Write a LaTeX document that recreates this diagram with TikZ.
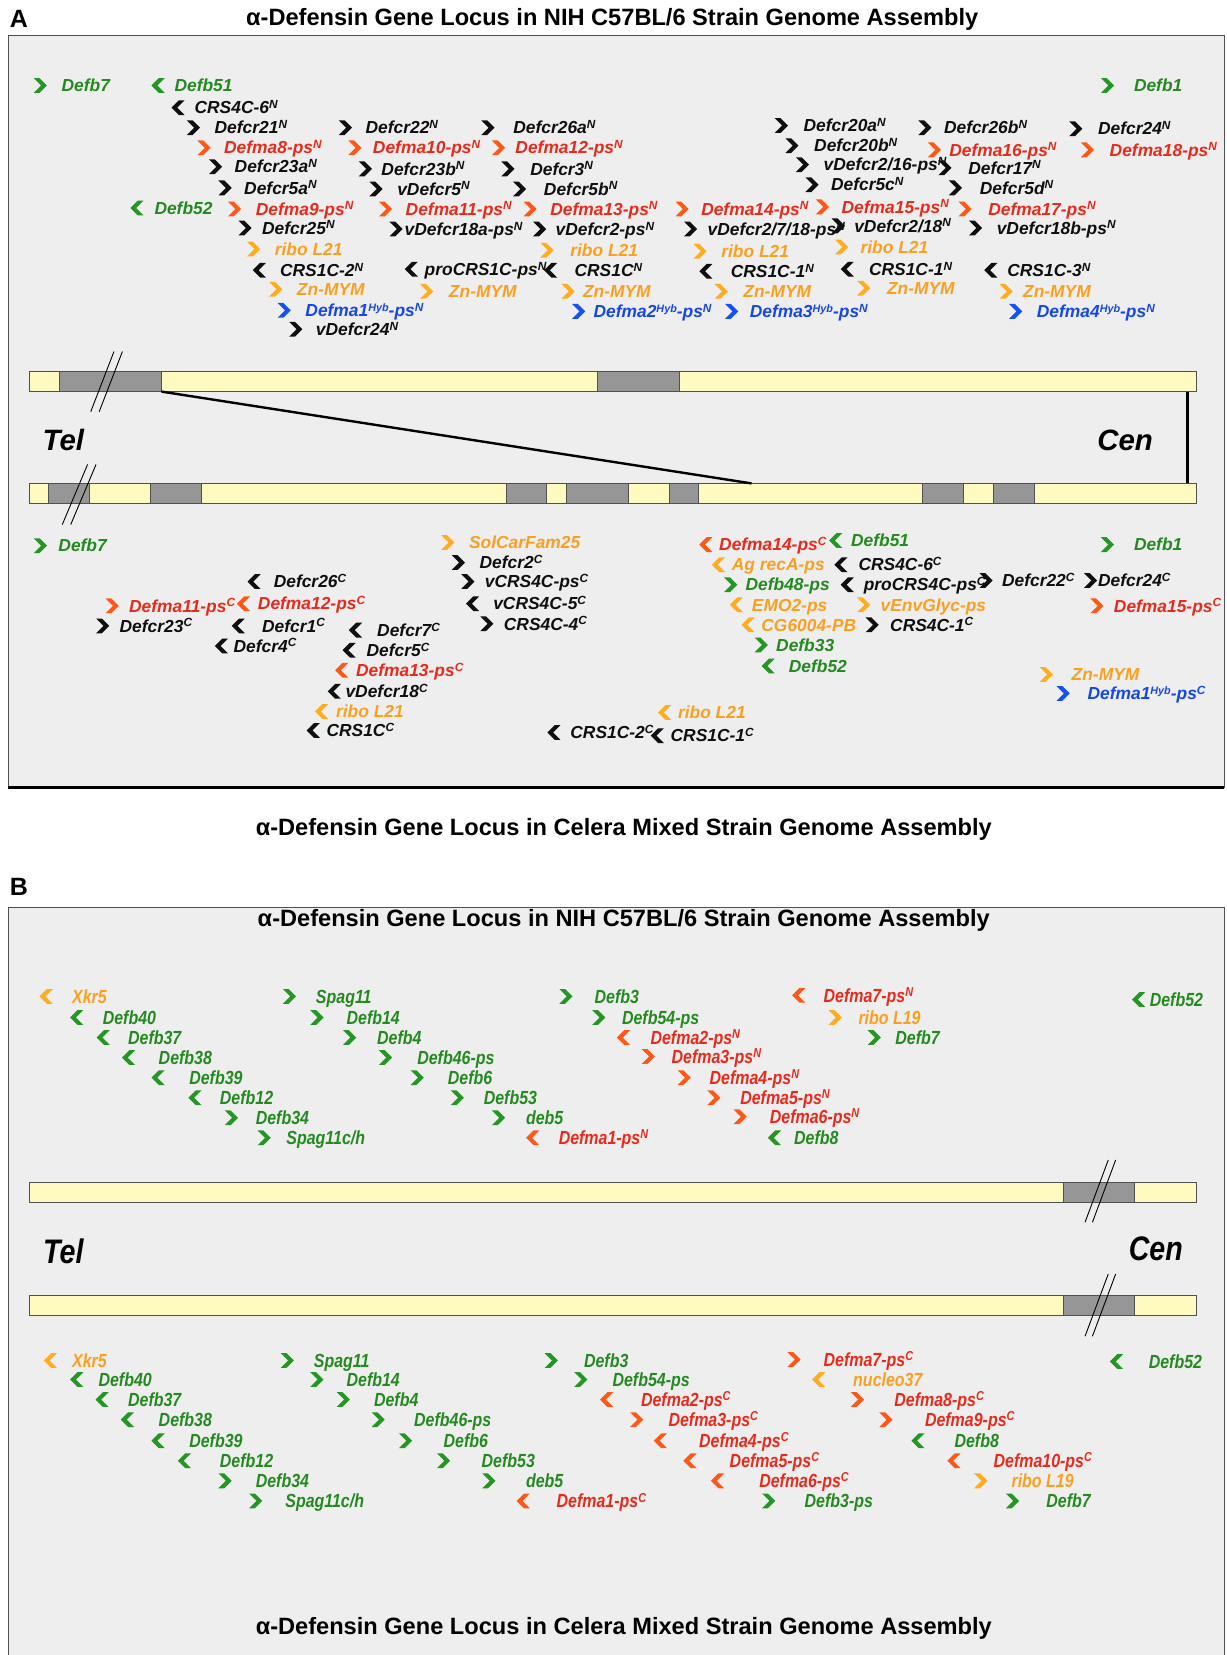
\documentclass[tikz,border=0pt]{standalone}
\usepackage{fontspec}
\setmainfont{Liberation Sans}
\newfontfamily\narrowsf[FakeStretch=0.84]{Liberation Sans}
\newcounter{gnc}
\newcommand\supN{\raisebox{0.3em}{\scalebox{0.68}{N}}}
\newcommand\supC{\raisebox{0.3em}{\scalebox{0.68}{C}}}
\newcommand\supH{\raisebox{0.3em}{\scalebox{0.62}{Hyb}}}
\definecolor{cGtx}{RGB}{36,138,32}
\definecolor{cGar}{RGB}{36,150,36}
\definecolor{cRtx}{RGB}{232,42,28}
\definecolor{cRar}{RGB}{255,88,22}
\definecolor{cOtx}{RGB}{250,160,32}
\definecolor{cOar}{RGB}{255,172,30}
\definecolor{cBtx}{RGB}{22,72,230}
\definecolor{cBar}{RGB}{20,82,245}
\definecolor{cKtx}{RGB}{15,15,15}
\definecolor{cKar}{RGB}{15,15,15}
\definecolor{cPanel}{RGB}{238,238,238}
\definecolor{cYel}{RGB}{255,250,192}
\definecolor{cSeg}{RGB}{150,150,150}
\definecolor{cBd}{RGB}{80,80,80}
\newcommand\gn[6]{\stepcounter{gnc}\edef\gname{g\arabic{gnc}}%
  \pic[c#1ar,xscale=#2] at (#3,#5) {chevr};%
  \node[lbl,text=c#1tx] (\gname) at (#4,#5) {#6};}
\begin{document}
\begin{tikzpicture}[x=0.52755pt,y=-0.52755pt,
  chevr/.pic={\fill (-6,-7) -- (-0.5,-7) -- (6.5,0) -- (-0.5,7) -- (-6,7) -- (1,0) -- cycle;},
  lbl/.style={anchor=base west,inner sep=0pt,font=\fontsize{8.7}{10}\selectfont\bfseries\itshape,yshift=-3.1pt},
  ttl/.style={inner sep=0pt,font=\fontsize{11.8}{14}\selectfont\bfseries},
  pnl/.style={inner sep=0pt,font=\fontsize{12.5}{14}\selectfont\bfseries},
  endlbl/.style={inner sep=0pt,font=\fontsize{14.7}{17}\selectfont\bfseries\itshape},
  chrom/.style={fill=cYel,draw=cBd,line width=0.5pt},
  seg/.style={fill=cSeg,draw=cBd,line width=0.5pt},
  brk/.style={draw=black,line width=0.45pt},
  link/.style={draw=black,line width=1.2pt}]
\useasboundingbox (0,0) rectangle (1162,1568);
\fill[white] (0,0) rectangle (1162,1568);
% ---------------- panel A ----------------
\node[pnl] (pA) at (18,18) {A};
\node[ttl] (tA) at (580,18) {α-Defensin Gene Locus in NIH C57BL/6 Strain Genome Assembly};
\filldraw[fill=cPanel,draw=cBd,line width=0.6pt] (8,34) rectangle (1160,746);
\draw[black,line width=1.4pt] (8,746) -- (1160,746);
\node[ttl] (tA2) at (591,786) {α-Defensin Gene Locus in Celera Mixed Strain Genome Assembly};
% bars
\path[chrom] (28,352) rectangle (1134,371);
\path[seg] (56,352) rectangle (153,371);
\path[seg] (566,352) rectangle (644,371);
\path[chrom] (28,458) rectangle (1134,477);
\foreach \a/\b in {46/85,143/191,480/518,537/595,634/662,874/913,941/980}
  \path[seg] (\a,458) rectangle (\b,477);
\draw[brk] (108,333) -- (86,390);
\draw[brk] (116,333) -- (94,390);
\draw[brk] (83,440) -- (59,497);
\draw[brk] (91,440) -- (67,497);
\coordinate (dTop) at (153,371);
\coordinate (dBot) at (712,458);
\coordinate (vTop) at (1125,371);
\coordinate (vBot) at (1125,458);
\draw[link] (dTop) -- (dBot);
\draw[link] (vTop) -- (vBot);
\node[endlbl] (telA) at (60,417) {Tel};
\node[endlbl] (cenA) at (1066,417) {Cen};
% labels above
\gn{G}{1}{38}{58}{81}{Defb7}
\gn{G}{-1}{150}{165}{81}{Defb51}
\gn{G}{1}{1049}{1074}{81}{Defb1}
\gn{K}{-1}{169}{184}{102}{CRS4C-6\supN}
\gn{K}{1}{183}{203}{121}{Defcr21\supN}
\gn{K}{1}{327}{346}{121}{Defcr22\supN}
\gn{K}{1}{462}{486}{121}{Defcr26a\supN}
\gn{K}{1}{740}{761}{119}{Defcr20a\supN}
\gn{K}{1}{876}{894}{121}{Defcr26b\supN}
\gn{K}{1}{1019}{1040}{122}{Defcr24\supN}
\gn{R}{1}{193}{212}{140}{Defma8-ps\supN}
\gn{R}{1}{336}{353}{140}{Defma10-ps\supN}
\gn{R}{1}{472}{488}{140}{Defma12-ps\supN}
\gn{K}{1}{750}{771}{138}{Defcr20b\supN}
\gn{R}{1}{885}{899}{142}{Defma16-ps\supN}
\gn{R}{1}{1030}{1051}{142}{Defma18-ps\supN}
\gn{K}{1}{204}{222}{158}{Defcr23a\supN}
\gn{K}{1}{346}{361}{160}{Defcr23b\supN}
\gn{K}{1}{481}{502}{160}{Defcr3\supN}
\gn{K}{1}{760}{780}{156}{vDefcr2/16-ps\supN}
\gn{K}{1}{895}{917}{159}{Defcr17\supN}
\gn{K}{1}{213}{231}{178}{Defcr5a\supN}
\gn{K}{1}{356}{376}{179}{vDefcr5\supN}
\gn{K}{1}{492}{515}{179}{Defcr5b\supN}
\gn{K}{1}{769}{787}{175}{Defcr5c\supN}
\gn{K}{1}{905}{928}{178}{Defcr5d\supN}
\gn{G}{-1}{130}{146}{197}{Defb52}
\gn{R}{1}{222}{242}{198}{Defma9-ps\supN}
\gn{R}{1}{365}{384}{198}{Defma11-ps\supN}
\gn{R}{1}{502}{521}{198}{Defma13-ps\supN}
\gn{R}{1}{646}{664}{198}{Defma14-ps\supN}
\gn{R}{1}{779}{797}{196}{Defma15-ps\supN}
\gn{R}{1}{914}{936}{198}{Defma17-ps\supN}
\gn{K}{1}{232}{248}{216}{Defcr25\supN}
\gn{K}{1}{375}{383}{217}{vDefcr18a-ps\supN}
\gn{K}{1}{511}{526}{217}{vDefcr2-ps\supN}
\gn{K}{1}{654}{670}{217}{vDefcr2/7/18-ps\supN}
\gn{K}{1}{794}{809}{214}{vDefcr2/18\supN}
\gn{K}{1}{924}{944}{216}{vDefcr18b-ps\supN}
\gn{O}{1}{240}{260}{236}{ribo L21}
\gn{O}{1}{518}{540}{237}{ribo L21}
\gn{O}{1}{663}{683}{238}{ribo L21}
\gn{O}{1}{797}{815}{234}{ribo L21}
\gn{K}{-1}{246}{265}{256}{CRS1C-2\supN}
\gn{K}{-1}{390}{402}{255}{proCRS1C-ps\supN}
\gn{K}{-1}{522}{544}{256}{CRS1C\supN}
\gn{K}{-1}{669}{692}{257}{CRS1C-1\supN}
\gn{K}{-1}{803}{823}{255}{CRS1C-1\supN}
\gn{K}{-1}{939}{954}{256}{CRS1C-3\supN}
\gn{O}{1}{261}{281}{274}{Zn-MYM}
\gn{O}{1}{404}{425}{276}{Zn-MYM}
\gn{O}{1}{538}{552}{276}{Zn-MYM}
\gn{O}{1}{683}{704}{276}{Zn-MYM}
\gn{O}{1}{818}{840}{273}{Zn-MYM}
\gn{O}{1}{953}{969}{276}{Zn-MYM}
\gn{B}{1}{269}{289}{294}{Defma1\supH-ps\supN}
\gn{B}{1}{548}{562}{295}{Defma2\supH-ps\supN}
\gn{B}{1}{693}{710}{295}{Defma3\supH-ps\supN}
\gn{B}{1}{962}{982}{295}{Defma4\supH-ps\supN}
\gn{K}{1}{280}{299}{312}{vDefcr24\supN}
% labels below
\gn{G}{1}{38}{55}{517}{Defb7}
\gn{O}{1}{424}{444}{514}{SolCarFam25}
\gn{R}{-1}{669}{681}{516}{Defma14-ps\supC}
\gn{G}{-1}{792}{806}{512}{Defb51}
\gn{G}{1}{1049}{1074}{516}{Defb1}
\gn{K}{1}{434}{454}{533}{Defcr2\supC}
\gn{O}{-1}{681}{693}{535}{Ag recA-ps}
\gn{K}{-1}{797}{813}{535}{CRS4C-6\supC}
\gn{K}{-1}{241}{259}{551}{Defcr26\supC}
\gn{K}{1}{443}{459}{551}{vCRS4C-ps\supC}
\gn{G}{1}{692}{706}{554}{Defb48-ps}
\gn{K}{-1}{803}{818}{554}{proCRS4C-ps\supC}
\gn{K}{1}{934}{949}{550}{Defcr22\supC}
\gn{K}{1}{1033}{1040}{550}{Defcr24\supC}
\gn{K}{-1}{448}{467}{572}{vCRS4C-5\supC}
\gn{R}{-1}{231}{244}{572}{Defma12-ps\supC}
\gn{R}{1}{106}{122}{574}{Defma11-ps\supC}
\gn{O}{-1}{698}{712}{573}{EMO2-ps}
\gn{O}{1}{818}{834}{573}{vEnvGlyc-ps}
\gn{R}{1}{1039}{1055}{574}{Defma15-ps\supC}
\gn{K}{1}{97}{113}{593}{Defcr23\supC}
\gn{K}{-1}{226}{248}{593}{Defcr1\supC}
\gn{K}{1}{461}{477}{591}{CRS4C-4\supC}
\gn{O}{-1}{709}{721}{592}{CG6004-PB}
\gn{K}{1}{826}{843}{592}{CRS4C-1\supC}
\gn{K}{-1}{337}{357}{597}{Defcr7\supC}
\gn{K}{-1}{210}{221}{612}{Defcr4\supC}
\gn{K}{-1}{331}{347}{616}{Defcr5\supC}
\gn{G}{1}{721}{735}{611}{Defb33}
\gn{R}{-1}{324}{337}{635}{Defma13-ps\supC}
\gn{G}{-1}{728}{747}{631}{Defb52}
\gn{O}{1}{991}{1015}{639}{Zn-MYM}
\gn{K}{-1}{317}{327}{655}{vDefcr18\supC}
\gn{B}{1}{1007}{1030}{657}{Defma1\supH-ps\supC}
\gn{O}{-1}{305}{318}{674}{ribo L21}
\gn{O}{-1}{630}{642}{675}{ribo L21}
\gn{K}{-1}{297}{309}{692}{CRS1C\supC}
\gn{K}{-1}{525}{540}{694}{CRS1C-2\supC}
\gn{K}{-1}{623}{635}{697}{CRS1C-1\supC}
% ---------------- panel B ----------------
\node[pnl] (pB) at (18,840) {B};
\filldraw[fill=cPanel,draw=cBd,line width=0.6pt] (8,860) rectangle (1160,1580);
\node[ttl] (tB) at (591,872) {α-Defensin Gene Locus in NIH C57BL/6 Strain Genome Assembly};
\node[ttl] (tB2) at (591,1543) {α-Defensin Gene Locus in Celera Mixed Strain Genome Assembly};
\path[chrom] (28,1120) rectangle (1134,1139);
\path[seg] (1008,1120) rectangle (1075,1139);
\path[chrom] (28,1227) rectangle (1134,1246);
\path[seg] (1008,1227) rectangle (1075,1246);
\draw[brk] (1050,1099) -- (1028,1158);
\draw[brk] (1057,1099) -- (1035,1158);
\draw[brk] (1050,1207) -- (1028,1266);
\draw[brk] (1057,1207) -- (1035,1266);
\begin{scope}[endlbl/.style={inner sep=0pt,font=\narrowsf\fontsize{17}{19}\selectfont\bfseries\itshape},
  lbl/.style={anchor=base west,inner sep=0pt,font=\narrowsf\fontsize{9.5}{11}\selectfont\bfseries\itshape,yshift=-3.4pt}]
\node[endlbl] (telB) at (60,1186) {Tel};
\node[endlbl] (cenB) at (1095,1183) {Cen};
\gn{O}{-1}{44}{68}{944}{Xkr5}
\gn{G}{1}{274}{299}{944}{Spag11}
\gn{G}{1}{536}{563}{944}{Defb3}
\gn{R}{-1}{757}{780}{943}{Defma7-ps\supN}
\gn{G}{-1}{1079}{1089}{947}{Defb52}
\gn{G}{-1}{73}{97}{964}{Defb40}
\gn{G}{1}{300}{328}{964}{Defb14}
\gn{G}{1}{567}{589}{964}{Defb54-ps}
\gn{O}{1}{791}{813}{964}{ribo L19}
\gn{G}{-1}{98}{121}{983}{Defb37}
\gn{G}{1}{331}{357}{983}{Defb4}
\gn{R}{-1}{591}{616}{983}{Defma2-ps\supN}
\gn{G}{1}{828}{848}{983}{Defb7}
\gn{G}{-1}{122}{150}{1002}{Defb38}
\gn{G}{1}{365}{395}{1002}{Defb46-ps}
\gn{R}{1}{614}{636}{1001}{Defma3-ps\supN}
\gn{G}{-1}{150}{179}{1021}{Defb39}
\gn{G}{1}{395}{424}{1021}{Defb6}
\gn{R}{1}{648}{672}{1021}{Defma4-ps\supN}
\gn{G}{-1}{185}{208}{1040}{Defb12}
\gn{G}{1}{433}{458}{1040}{Defb53}
\gn{R}{1}{676}{701}{1040}{Defma5-ps\supN}
\gn{G}{1}{219}{242}{1059}{Defb34}
\gn{G}{1}{472}{498}{1059}{deb5}
\gn{R}{1}{701}{729}{1058}{Defma6-ps\supN}
\gn{G}{1}{250}{271}{1078}{Spag11c/h}
\gn{R}{-1}{505}{529}{1078}{Defma1-ps\supN}
\gn{G}{-1}{734}{752}{1078}{Defb8}
\gn{O}{-1}{48}{68}{1289}{Xkr5}
\gn{G}{1}{272}{297}{1289}{Spag11}
\gn{G}{1}{522}{553}{1289}{Defb3}
\gn{R}{1}{752}{780}{1288}{Defma7-ps\supC}
\gn{G}{-1}{1058}{1088}{1290}{Defb52}
\gn{G}{-1}{73}{93}{1307}{Defb40}
\gn{G}{1}{300}{328}{1307}{Defb14}
\gn{G}{1}{550}{580}{1307}{Defb54-ps}
\gn{O}{-1}{776}{808}{1307}{nucleo37}
\gn{G}{-1}{97}{121}{1326}{Defb37}
\gn{G}{1}{325}{354}{1326}{Defb4}
\gn{R}{-1}{575}{607}{1326}{Defma2-ps\supC}
\gn{R}{1}{812}{847}{1326}{Defma8-ps\supC}
\gn{G}{-1}{121}{150}{1345}{Defb38}
\gn{G}{1}{358}{392}{1345}{Defb46-ps}
\gn{R}{1}{603}{633}{1345}{Defma3-ps\supC}
\gn{R}{1}{839}{876}{1345}{Defma9-ps\supC}
\gn{G}{-1}{150}{179}{1365}{Defb39}
\gn{G}{1}{384}{420}{1365}{Defb6}
\gn{R}{-1}{626}{662}{1365}{Defma4-ps\supC}
\gn{G}{-1}{870}{904}{1365}{Defb8}
\gn{G}{-1}{175}{208}{1384}{Defb12}
\gn{G}{1}{420}{456}{1384}{Defb53}
\gn{R}{-1}{654}{691}{1384}{Defma5-ps\supC}
\gn{R}{-1}{904}{941}{1384}{Defma10-ps\supC}
\gn{G}{1}{213}{242}{1403}{Defb34}
\gn{G}{1}{463}{498}{1403}{deb5}
\gn{R}{-1}{680}{719}{1403}{Defma6-ps\supC}
\gn{O}{1}{929}{958}{1403}{ribo L19}
\gn{G}{1}{242}{270}{1422}{Spag11c/h}
\gn{R}{-1}{496}{527}{1422}{Defma1-ps\supC}
\gn{G}{1}{728}{762}{1422}{Defb3-ps}
\gn{G}{1}{959}{991}{1422}{Defb7}
\end{scope}
\end{tikzpicture}
\end{document}
